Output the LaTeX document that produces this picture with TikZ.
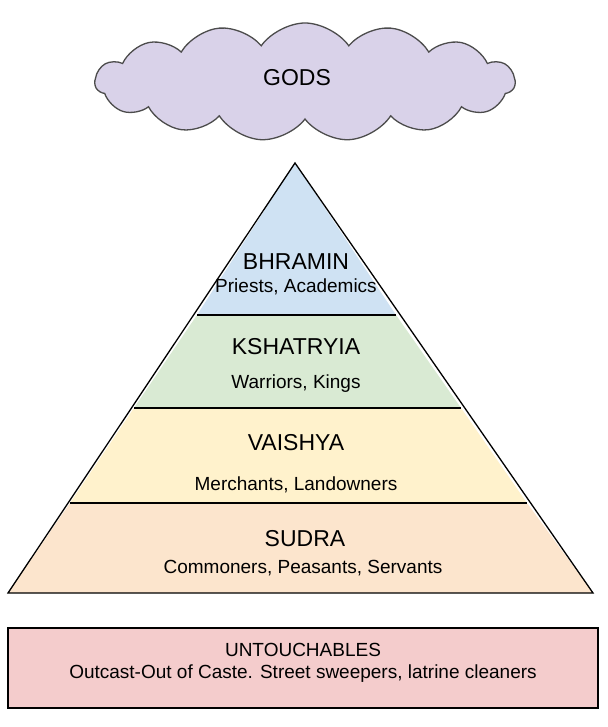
\documentclass[tikz,border=0pt]{standalone}
\usepackage{fontspec}
\setmainfont{Liberation Sans}
\usetikzlibrary{shapes.symbols}
\definecolor{cblue}{HTML}{CFE2F3}
\definecolor{cgreen}{HTML}{D9EAD3}
\definecolor{cyellow}{HTML}{FFF2CC}
\definecolor{corange}{HTML}{FCE5CD}
\definecolor{cred}{HTML}{F4CCCC}
\definecolor{cpurple}{HTML}{D9D2E9}
\tikzset{layer/.style={draw=black, line width=1.3pt, line join=miter},
 big/.style={font=\fontsize{23}{26}\selectfont},
 mid/.style={font=\fontsize{19}{22}\selectfont},
 small/.style={font=\fontsize{19}{22}\selectfont}}
\begin{document}
\begin{tikzpicture}[x=1pt,y=-1pt]
\useasboundingbox (0,0) rectangle (607,727);
\node[cloud, cloud puffs=15, cloud puff arc=110, aspect=3.2, draw=black!70, line width=1.3pt, fill=cpurple, minimum width=420, minimum height=118] (cloud) at (305,82) {};
\node[big] (gods) at (297,78) {GODS};
\fill[corange] (70,503) -- (527,503) -- (593,593) -- (8,593) -- cycle;
\fill[cyellow] (134,408) -- (461,408) -- (527,503) -- (70,503) -- cycle;
\fill[cgreen] (197,315) -- (396,315) -- (461,408) -- (134,408) -- cycle;
\fill[cblue] (295,163) -- (396,315) -- (197,315) -- cycle;
\draw[layer] (295,163) -- (593,593) -- (8,593) -- cycle;
\draw[layer] (197,315) -- (396,315);
\draw[layer] (134,408) -- (461,408);
\draw[layer] (70,503) -- (527,503);
\node[big] (b1) at (296,262) {BHRAMIN};
\node[small] (b2) at (296,287) {Priests, Academics};
\node[big] (k1) at (296,347) {KSHATRYIA};
\node[small] (k2) at (296,384) {Warriors, Kings};
\node[big] (v1) at (296,443) {VAISHYA};
\node[small] (v2) at (296,485) {Merchants, Landowners};
\node[big] (s1) at (305,539) {SUDRA};
\node[small] (s2) at (303,568) {Commoners, Peasants, Servants};
\node[draw=black, line width=1.3pt, fill=cred, minimum width=590, minimum height=80] (u) at (303,668) {};
\node[mid] (u1) at (303,650) {UNTOUCHABLES};
\node[small] (u2) at (303,674) {Outcast-Out of Caste. Street sweepers, latrine cleaners};
\end{tikzpicture}
\end{document}
